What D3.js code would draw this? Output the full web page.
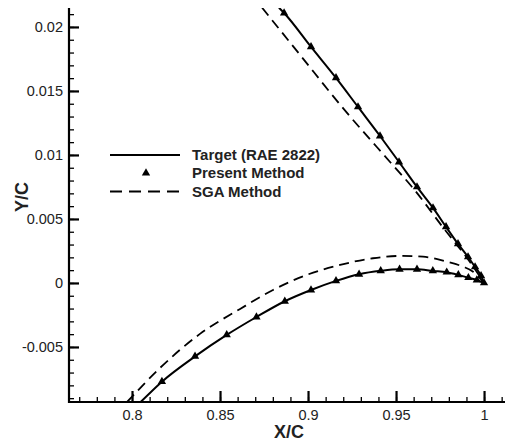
<!DOCTYPE html>
<html>
<head>
<meta charset="utf-8">
<script src="https://cdn.jsdelivr.net/npm/d3@7"></script>
<style>
  body { margin: 0; background: #fff; }
  svg { display: block; font-family: "Liberation Sans", Arial, sans-serif; }
</style>
</head>
<body>
<div id="chart"></div>
<script>
// target airfoil (RAE 2822), solid line
const targetUpper = [
  [0.8835, 0.0215], [0.8864, 0.02109], [0.9017, 0.01844], [0.9159, 0.01602], [0.9284, 0.01375],
  [0.9409, 0.01148], [0.9517, 0.00945], [0.9619, 0.0075], [0.9710, 0.00586], [0.9784, 0.00438],
  [0.9852, 0.00305], [0.9909, 0.00203], [0.9949, 0.00125], [0.9983, 0.00055], [1.0, 0]
];
const targetLower = [
  [0.8049, -0.0093], [0.8170, -0.00771], [0.8358, -0.00574], [0.8538, -0.00406], [0.8707, -0.00266],
  [0.8868, -0.00143], [0.9017, -0.00055], [0.9159, 0.00016], [0.9290, 0.00068], [0.9413, 0.00095],
  [0.9520, 0.00107], [0.9619, 0.00107], [0.9709, 0.00094], [0.9788, 0.00084], [0.9854, 0.00063],
  [0.9911, 0.00041], [0.9959, 0.00023], [1.0, 0]
];
// present method, triangles
const presentUpper = [
  [0.8864, 0.02109], [0.9017, 0.01844], [0.9159, 0.01602], [0.9284, 0.01375], [0.9409, 0.01148],
  [0.9517, 0.00945], [0.9619, 0.0075], [0.9710, 0.00586], [0.9784, 0.00438], [0.9852, 0.00305],
  [0.9909, 0.00203], [0.9949, 0.00125], [0.9983, 0.00055], [1.0, 0]
];
const presentLower = [
  [0.8170, -0.00771], [0.8358, -0.00574], [0.8538, -0.00406], [0.8707, -0.00266], [0.8868, -0.00143],
  [0.9017, -0.00055], [0.9159, 0.00016], [0.9290, 0.00068], [0.9413, 0.00095], [0.9520, 0.00107],
  [0.9619, 0.00107], [0.9709, 0.00094], [0.9788, 0.00084], [0.9854, 0.00063], [0.9911, 0.00041],
  [0.9959, 0.00023]
];
// SGA method, dashed
const sgaUpper = [
  [0.8739, 0.0215], [0.8955, 0.01781], [0.9193, 0.01375], [0.9466, 0.00945], [0.9591, 0.0075],
  [0.9778, 0.00414], [0.9920, 0.00164], [1.0, 0]
];
const sgaLower = [
  [0.7972, -0.0093], [0.8159, -0.00664], [0.8386, -0.00398], [0.8614, -0.00203], [0.8801, -0.00055],
  [0.8993, 0.00063], [0.9182, 0.00141], [0.9369, 0.00193], [0.9523, 0.00211], [0.9653, 0.00205],
  [0.9788, 0.00166], [0.9881, 0.00127], [0.9938, 0.00088], [1.0, 0]
];

const xMajor = [0.8, 0.85, 0.9, 0.95, 1];
const yMajor = [-0.005, 0, 0.005, 0.01, 0.015, 0.02];
const legendLabels = ['Target (RAE 2822)', 'Present Method', 'SGA Method'];

const W = 505, H = 446;
const mLeft = 69, mRight = 505, mTop = 8, mBottom = 402;

const svg = d3.select('#chart').append('svg')
    .attr('width', W)
    .attr('height', H);

const x = d3.scaleLinear().domain([0.7642, 1.0119]).range([mLeft, mRight]);
const y = d3.scaleLinear().domain([-0.0093, 0.02148]).range([mBottom, mTop]);

svg.append('clipPath').attr('id', 'clip')
  .append('rect')
    .attr('x', mLeft).attr('y', mTop)
    .attr('width', mRight - mLeft).attr('height', mBottom - mTop);

// minor ticks
const xMinor = d3.range(77, 102).map(d => d / 100);
const yMinor = d3.range(-9, 22).map(d => d / 1000);

svg.append('g')
    .attr('transform', `translate(0,${mBottom})`)
    .call(d3.axisBottom(x).tickValues(xMinor).tickSize(-5).tickFormat(''))
    .call(g => g.select('.domain').remove())
    .selectAll('line').attr('stroke', '#000').attr('stroke-width', 1.3);

svg.append('g')
    .attr('transform', `translate(${mLeft},0)`)
    .call(d3.axisLeft(y).tickValues(yMinor).tickSize(-5).tickFormat(''))
    .call(g => g.select('.domain').remove())
    .selectAll('line').attr('stroke', '#000').attr('stroke-width', 1.3);

// major ticks + labels
const xAxis = svg.append('g')
    .attr('transform', `translate(0,${mBottom})`)
    .call(d3.axisBottom(x).tickValues(xMajor).tickSize(-11).tickPadding(8)
      .tickFormat(d => String(+d.toFixed(2))));
xAxis.select('.domain').remove();
xAxis.selectAll('line').attr('stroke', '#000').attr('stroke-width', 2.2);
xAxis.selectAll('text')
    .attr('font-size', 14.5).attr('fill', '#222')
    .attr('font-family', '"Liberation Sans", Arial, sans-serif');

const yAxis = svg.append('g')
    .attr('transform', `translate(${mLeft},0)`)
    .call(d3.axisLeft(y).tickValues(yMajor).tickSize(-10).tickPadding(6)
      .tickFormat(d => String(+d.toFixed(3))));
yAxis.select('.domain').remove();
yAxis.selectAll('line').attr('stroke', '#000').attr('stroke-width', 2.2);
yAxis.selectAll('text')
    .attr('font-size', 14.5).attr('fill', '#222')
    .attr('font-family', '"Liberation Sans", Arial, sans-serif');

// axis lines
svg.append('line')
    .attr('x1', mLeft).attr('x2', mLeft).attr('y1', mTop).attr('y2', mBottom + 1)
    .attr('stroke', '#000').attr('stroke-width', 2.2);
svg.append('line')
    .attr('x1', mLeft - 1).attr('x2', mRight).attr('y1', mBottom).attr('y2', mBottom)
    .attr('stroke', '#000').attr('stroke-width', 2.2);

// axis titles
svg.append('text')
    .attr('x', 289).attr('y', 438)
    .attr('text-anchor', 'middle')
    .attr('font-size', 18).attr('font-weight', 'bold').attr('fill', '#222')
    .text('X/C');
svg.append('text')
    .attr('transform', 'translate(28,197) rotate(-90)')
    .attr('text-anchor', 'middle')
    .attr('font-size', 18).attr('font-weight', 'bold').attr('fill', '#222')
    .text('Y/C');

// curves
const line = d3.line().x(d => x(d[0])).y(d => y(d[1])).curve(d3.curveMonotoneX);
const plot = svg.append('g').attr('clip-path', 'url(#clip)');

[sgaUpper, sgaLower].forEach(s => {
  plot.append('path')
      .datum(s)
      .attr('d', line)
      .attr('fill', 'none')
      .attr('stroke', '#000')
      .attr('stroke-width', 1.8)
      .attr('stroke-dasharray', '10,6');
});

[targetUpper, targetLower].forEach(s => {
  plot.append('path')
      .datum(s)
      .attr('d', line)
      .attr('fill', 'none')
      .attr('stroke', '#000')
      .attr('stroke-width', 2);
});

const tri = d3.symbol(d3.symbolTriangle, 30);
svg.append('g').selectAll('path.marker')
    .data(presentUpper.concat(presentLower))
    .join('path')
    .classed('marker', true)
    .attr('d', tri)
    .attr('transform', d => `translate(${x(d[0])},${y(d[1])})`)
    .attr('fill', '#000');

// legend
const lg = svg.append('g');
const rowY = [155, 173, 191.5];
lg.append('line')
    .attr('x1', 110).attr('x2', 180).attr('y1', rowY[0]).attr('y2', rowY[0])
    .attr('stroke', '#000').attr('stroke-width', 2);
lg.append('path')
    .attr('d', tri)
    .attr('transform', `translate(146,${rowY[1]})`)
    .attr('fill', '#000');
lg.append('line')
    .attr('x1', 110).attr('x2', 180).attr('y1', rowY[2]).attr('y2', rowY[2])
    .attr('stroke', '#000').attr('stroke-width', 2)
    .attr('stroke-dasharray', '12,7');
lg.selectAll('text')
    .data(legendLabels)
    .join('text')
    .attr('x', 192)
    .attr('y', (d, i) => rowY[i] + 5)
    .attr('font-size', 15).attr('font-weight', 'bold').attr('fill', '#222')
    .text(d => d);
</script>
</body>
</html>
